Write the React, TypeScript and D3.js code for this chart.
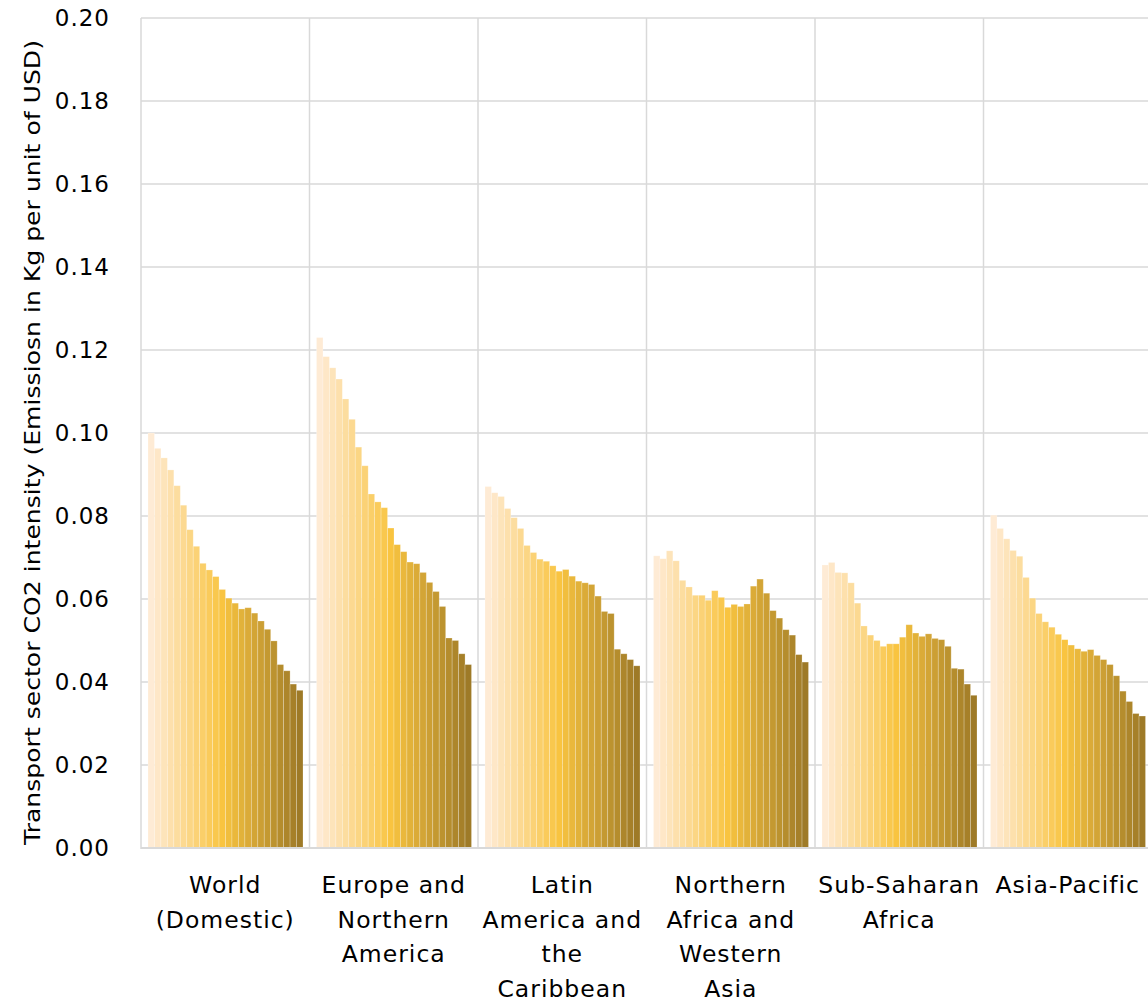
import React from "react";
import * as d3 from "d3";

const categories = [
  ["World", "(Domestic)"],
  ["Europe and", "Northern", "America"],
  ["Latin", "America and", "the", "Caribbean"],
  ["Northern", "Africa and", "Western", "Asia"],
  ["Sub-Saharan", "Africa"],
  ["Asia-Pacific"],
];

const world = [0.1, 0.0963, 0.094, 0.0911, 0.0873, 0.0826, 0.0767, 0.0727, 0.0686, 0.067, 0.0654, 0.0623, 0.0602, 0.059, 0.0576, 0.0579, 0.0566, 0.0547, 0.0527, 0.0499, 0.0442, 0.0427, 0.0395, 0.038];
const europeNA = [0.123, 0.1184, 0.1157, 0.113, 0.1082, 0.1033, 0.0966, 0.0921, 0.0853, 0.0834, 0.082, 0.0771, 0.0731, 0.0714, 0.0689, 0.0685, 0.0664, 0.064, 0.0618, 0.0582, 0.0506, 0.05, 0.0468, 0.0442];
const latinAmerica = [0.0871, 0.0856, 0.0847, 0.0818, 0.0796, 0.077, 0.0729, 0.0712, 0.0696, 0.0691, 0.068, 0.0667, 0.0671, 0.0655, 0.0643, 0.0639, 0.0635, 0.0607, 0.057, 0.0565, 0.0479, 0.0468, 0.0454, 0.0439];
const nAfricaWAsia = [0.0704, 0.0697, 0.0716, 0.0692, 0.0645, 0.0629, 0.0609, 0.0609, 0.0597, 0.062, 0.0604, 0.058, 0.0587, 0.0582, 0.0588, 0.0631, 0.0648, 0.0614, 0.0572, 0.0554, 0.0526, 0.0513, 0.0466, 0.0448];
const subSaharan = [0.0682, 0.0688, 0.0664, 0.0663, 0.0639, 0.059, 0.0535, 0.0513, 0.05, 0.0486, 0.0492, 0.0492, 0.0508, 0.0538, 0.0518, 0.051, 0.0516, 0.0505, 0.0502, 0.0486, 0.0433, 0.0431, 0.0395, 0.0368];
const asiaPacific = [0.0802, 0.077, 0.0745, 0.0717, 0.0703, 0.0652, 0.0602, 0.0565, 0.0545, 0.0532, 0.0515, 0.0502, 0.0489, 0.048, 0.0474, 0.0478, 0.0464, 0.0454, 0.0442, 0.0415, 0.0378, 0.0353, 0.0324, 0.0318];

const seriesByGroup = [world, europeNA, latinAmerica, nAfricaWAsia, subSaharan, asiaPacific];
const yTicks = [0, 0.02, 0.04, 0.06, 0.08, 0.1, 0.12, 0.14, 0.16, 0.18, 0.2];
const yTitle = "Transport sector CO2 intensity (Emissiosn in Kg per unit of USD)";

const W = 1148;
const H = 1004;
const left = 141;
const right = 1152;
const top = 18;
const bottom = 848;
const FONT = "'DejaVu Sans', sans-serif";

export default function App() {
  const nSeries = world.length;
  const x0 = d3.scaleBand<number>().domain(d3.range(categories.length)).range([left, right]).padding(0);
  const gw = x0.bandwidth();
  const x1 = d3.scaleBand<number>().domain(d3.range(nSeries)).range([7, gw - 6.5]).padding(0);
  const y = d3.scaleLinear().domain([0, 0.2]).range([bottom, top]);

  const c1 = d3.interpolateRgb("#FEEBD5", "#F9C440");
  const c2 = d3.interpolateRgb("#F9C440", "#9E7A27");
  const mid = 11;
  const color = (i: number) => (i <= mid ? c1(i / mid) : c2((i - mid) / (nSeries - 1 - mid)));

  return (
    <svg width={W} height={H} style={{ position: "absolute", left: 0, top: 0, background: "#fff" }}>
      {yTicks.map((t) => (
        <line key={"g" + t} x1={left} x2={W} y1={y(t)} y2={y(t)} stroke="#D9D9D9" strokeWidth={t === 0 ? 2 : 1.5} />
      ))}
      {d3.range(categories.length + 1).map((i) => {
        const xx = i < categories.length ? x0(i)! : right;
        return <line key={"v" + i} x1={xx} x2={xx} y1={top} y2={bottom + 1} stroke="#D9D9D9" strokeWidth={1.5} />;
      })}
      {seriesByGroup.map((vals, g) => (
        <g key={"grp" + g} transform={`translate(${x0(g)},0)`}>
          {vals.map((v, i) => (
            <rect
              key={i}
              x={x1(i)}
              y={y(v)}
              width={x1.bandwidth()}
              height={bottom - y(v)}
              fill={color(i)}
              stroke="rgba(255,255,255,0.3)"
              strokeWidth={0.75}
            />
          ))}
        </g>
      ))}
      <line x1={left} x2={W} y1={bottom} y2={bottom} stroke="#D9D9D9" strokeWidth={2} />
      {yTicks.map((t) => (
        <text key={"t" + t} x={110} y={y(t)} dy="0.36em" textAnchor="end" fontFamily={FONT} fontSize={23} fill="#000" letterSpacing={1}>
          {t.toFixed(2)}
        </text>
      ))}
      <text
        transform={`translate(40,${(40 + 845) / 2}) rotate(-90)`}
        textAnchor="middle"
        fontFamily={FONT}
        fontSize={22}
        fill="#000"
        textLength={805}
        lengthAdjust="spacingAndGlyphs"
      >
        {yTitle}
      </text>
      {categories.map((lines, g) => (
        <text key={"c" + g} textAnchor="middle" fontFamily={FONT} fontSize={23.5} fill="#000" letterSpacing={1}>
          {lines.map((ln, k) => (
            <tspan key={k} x={x0(g)! + gw / 2} y={893 + k * 34.7}>
              {ln}
            </tspan>
          ))}
        </text>
      ))}
    </svg>
  );
}
